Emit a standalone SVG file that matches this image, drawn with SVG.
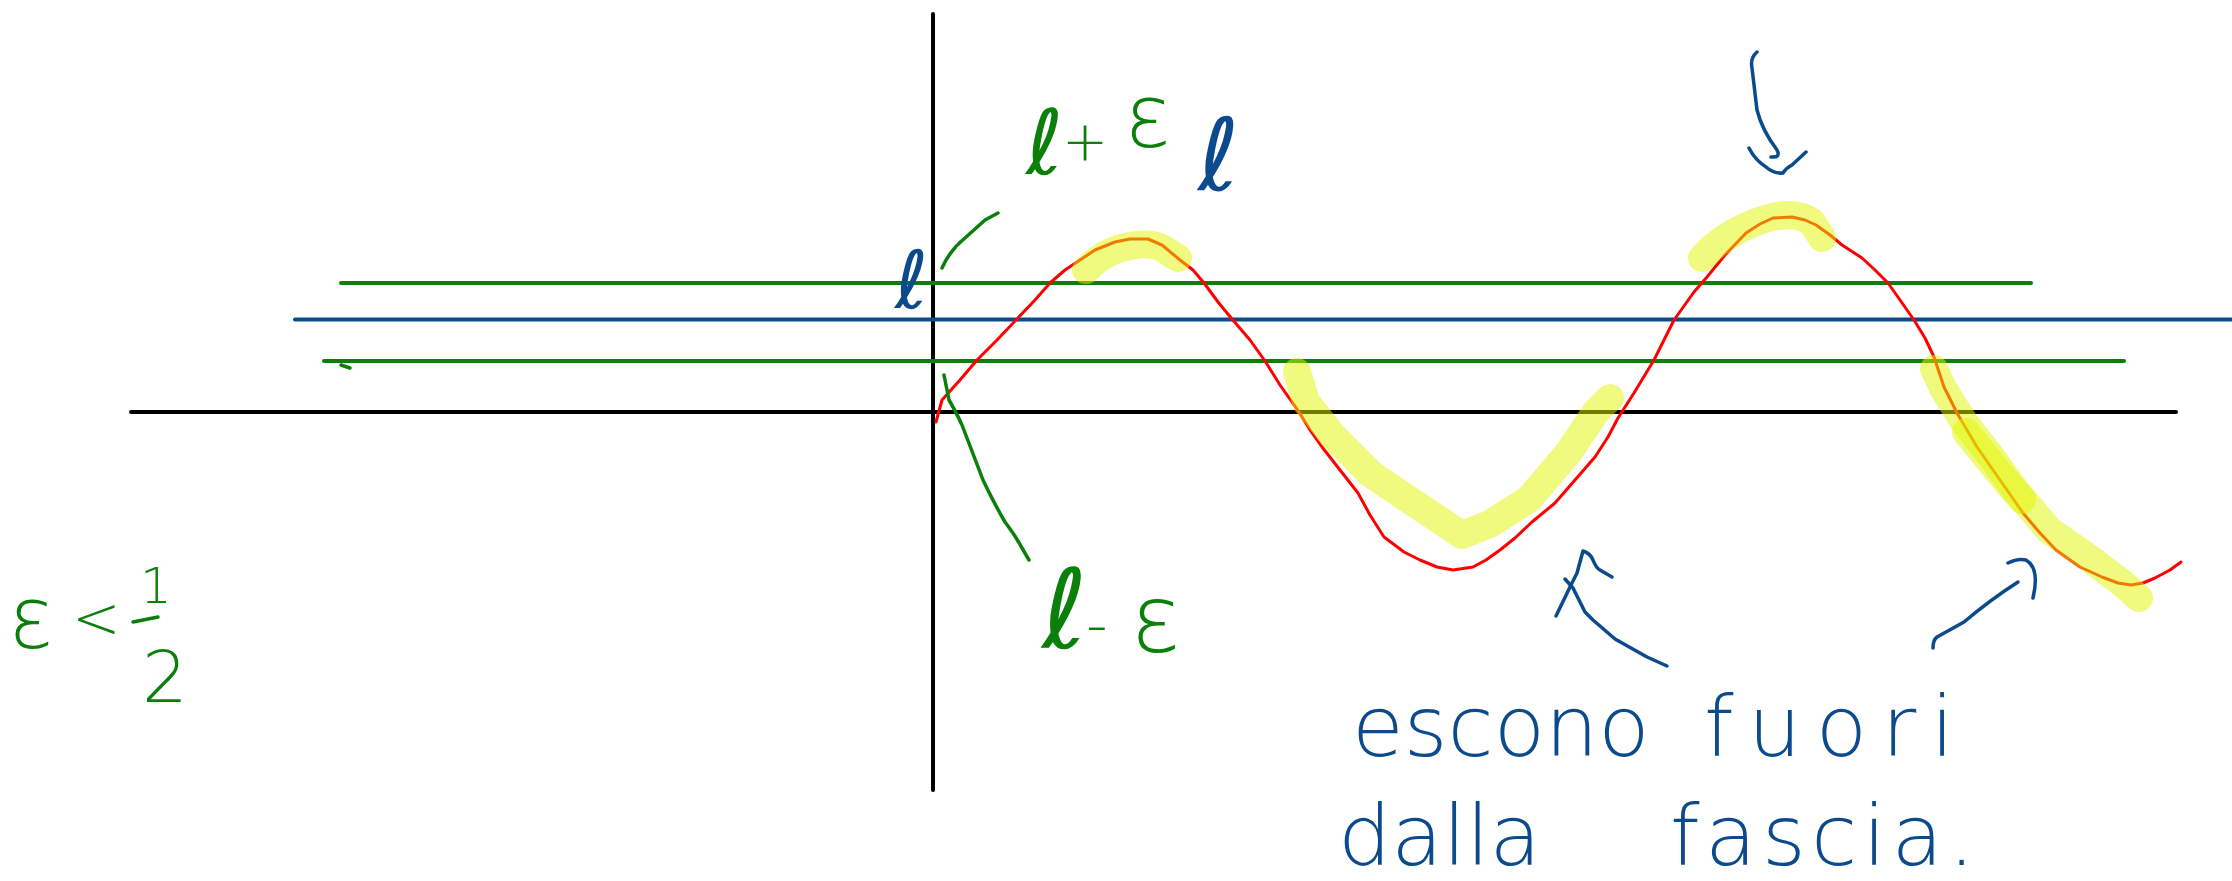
<svg xmlns="http://www.w3.org/2000/svg" width="2232" height="881" viewBox="0 0 2232 881">
<style>
.ax{stroke:#000;stroke-width:4;fill:none;stroke-linecap:round}
.gl{stroke:#0a800a;stroke-width:4;fill:none;stroke-linecap:round}
.bl{stroke:#0b4a8c;stroke-width:4;fill:none;stroke-linecap:round}
.pen-g{stroke:#0a800a;stroke-width:3.5;fill:none;stroke-linecap:round;stroke-linejoin:round}
.pen-b{stroke:#0b4a8c;stroke-width:3.5;fill:none;stroke-linecap:round;stroke-linejoin:round}
.curve{stroke:#ff0000;stroke-width:3;fill:none;stroke-linejoin:round;stroke-linecap:round}
.hl{stroke:#e1f500;stroke-opacity:0.5;stroke-width:28;fill:none;stroke-linecap:round;stroke-linejoin:round}
.tg{fill:#0a800a;font-family:"DejaVu Sans",sans-serif;font-weight:200}
.tb{fill:#0b4a8c;font-family:"DejaVu Sans",sans-serif;font-weight:200}
.ell{font-weight:normal}
</style>
<rect width="2232" height="881" fill="#fff"/>
<g id="axes">
<line class="ax" x1="933" y1="14" x2="933" y2="790"/>
<line class="ax" x1="131" y1="412" x2="2176" y2="412"/>
</g>
<g id="band">
<line class="gl" x1="341" y1="283" x2="2031" y2="283"/>
<line class="bl" x1="295" y1="319.5" x2="2232" y2="319.5"/>
<line class="gl" x1="324" y1="361" x2="2124" y2="361"/>
<path class="pen-g" d="M341,365 L350,368"/>
</g>
<g id="curve">
<polyline class="curve" points="936,422 942,400 960,380 977,360 997,340 1017,319 1035,300 1050,283 1065,270 1077,262 1095,250 1115,242 1130,239 1148,239 1162,245 1180,260 1193,270 1204,283 1218,302 1232,319 1250,340 1265,361 1280,385 1299,412 1310,430 1322,447 1340,470 1358,493 1370,515 1384,537 1404,552 1420,560 1437,567 1453,570 1473,567 1486,560 1500,550 1515,538 1532,522 1555,503 1575,480 1595,457 1608,437 1618,418 1634,393 1654,360 1674,320 1694,292 1707,277 1725,255 1746,233 1760,224 1773,218 1792,217 1805,220 1816,225 1830,235 1842,245 1862,258 1875,270 1888,283 1900,300 1914,320 1925,338 1934,357 1944,387 1957,413 1967,430 1977,447 2000,480 2023,513 2040,533 2056,550 2080,567 2102,577 2118,583 2131,585 2143,583 2155,578 2170,570 2181,562"/>
</g>
<g id="highlights">
<path class="hl" d="M1086,270 Q1105,250 1130,246 Q1150,242 1162,248 L1178,258"/>
<path class="hl" d="M1297,372 L1306,402 L1332,435 L1371,474 L1411,501 L1444,523 L1462,535 L1490,524 L1529,499 L1569,452 L1595,413 L1610,398"/>
<path class="hl" d="M1934,369 L1944,390 L1964,422 L1990,455 L2016,491 L2049,530 L2089,558 L2122,583 L2139,598"/>
<path class="hl" stroke-width="24" d="M1966,432 L1995,468 L2022,500"/>
<path class="hl" d="M1702,258 Q1725,232 1765,219 Q1795,210 1812,222 L1822,238"/>
</g>
<g id="labels">
<text class="tg ell" x="1026" y="174" font-size="90">ℓ</text>
<text class="tg" x="1062" y="160" font-size="55">+</text>
<text class="tg" x="1124" y="147" font-size="88">ε</text>
<text class="tb ell" x="1198" y="190" font-size="100">ℓ</text>
<text class="tb ell" x="895" y="308" font-size="80">ℓ</text>
<text class="tg ell" x="1042" y="648" font-size="110">ℓ</text>
<text class="tg" x="1086" y="645" font-size="60">-</text>
<text class="tg" x="1130" y="652" font-size="95">ε</text>
<text class="tg" x="8" y="648" font-size="85">ε</text>
<text class="tg" x="72" y="638" font-size="58">&lt;</text>
<text class="tg" x="140" y="603" font-size="50">1</text>
<line class="pen-g" x1="133" y1="622" x2="158" y2="617"/>
<text class="tg" x="142" y="702" font-size="72">2</text>
<text class="tb" x="1352" y="756" font-size="84">escono</text>
<text class="tb" x="1704" y="756" font-size="84" textLength="250" lengthAdjust="spacing">fuori</text>
<text class="tb" x="1338" y="865" font-size="84">dalla</text>
<text class="tb" x="1670" y="865" font-size="84" textLength="305" lengthAdjust="spacing">fascia.</text>
</g>
<g id="connectors">
<path class="pen-g" d="M942,268 Q950,250 965,238 L985,220 L998,213"/>
<path class="pen-g" d="M944,375 L949,400 Q955,410 962,425 L983,480 Q995,505 1005,522 Q1015,535 1022,548 L1029,560"/>
<path class="pen-b" d="M1757,52 Q1750,58 1752,68 L1757,110 Q1762,130 1777,150 Q1781,158 1771,157"/>
<path class="pen-b" d="M1749,148 Q1755,160 1766,167 Q1774,174 1783,173 Q1786,168 1792,165 L1806,152"/>
<path class="pen-b" d="M1667,666 L1647,657 L1615,639 L1593,620 L1585,612 L1573,588 L1565,579"/>
<path class="pen-b" d="M1556,616 L1570,587 Q1576,575 1577,573 L1583,551 Q1590,553 1593,560 Q1596,568 1600,570 L1612,577"/>
<path class="pen-b" d="M1933,648 Q1933,640 1937,637 L1964,622 Q1990,600 2018,582"/>
<path class="pen-b" d="M2008,563 Q2018,558 2026,560 Q2040,568 2033,598"/>
</g>
</svg>
